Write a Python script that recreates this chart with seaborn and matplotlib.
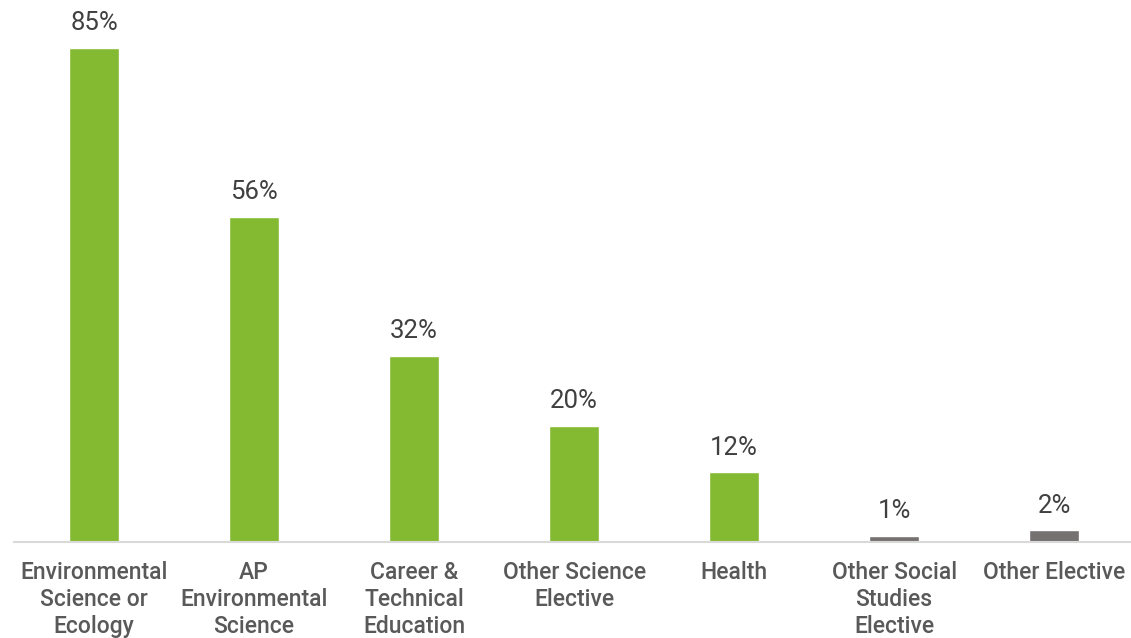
import matplotlib
matplotlib.use("Agg")
import matplotlib.pyplot as plt
import seaborn as sns
import pandas as pd

categories = ["Environmental\nScience or\nEcology", "AP\nEnvironmental\nScience",
              "Career &\nTechnical\nEducation", "Other Science\nElective", "Health",
              "Other Social\nStudies\nElective", "Other Elective"]
values = [85, 56, 32, 20, 12, 1, 2]
labels = ["85%", "56%", "32%", "20%", "12%", "1%", "2%"]
colors = ["#84BA31"] * 5 + ["#767171"] * 2

sns.set_theme(style="white")
plt.rcParams['font.family'] = ['Roboto', 'DejaVu Sans']

df = pd.DataFrame({"cat": categories, "val": values})
fig = plt.figure(figsize=(11.31, 6.38), dpi=100)
ax = fig.add_axes([14/1131, 1 - 542/638, 1 - 14/1131, 542/638])
sns.barplot(data=df, x="cat", y="val", hue="cat", palette=colors, legend=False,
            width=0.3125, saturation=1, ax=ax)
ax.set_xlim(-0.5, 6.48)
ax.set_ylim(0, 93.3)
for i, (v, l) in enumerate(zip(values, labels)):
    ax.text(i, v + 2.2, l, ha="center", va="bottom", fontsize=18.5, color="#404040")
ax.set_xlabel("")
ax.set_ylabel("")
ax.set_yticks([])
ax.tick_params(axis="x", length=0, pad=14, labelsize=16.5, labelcolor="#595959")
for lab in ax.get_xticklabels():
    lab.set_linespacing(1.2)
    lab.set_fontweight("medium")
for s in ["top", "right", "left"]:
    ax.spines[s].set_visible(False)
ax.spines["bottom"].set_color("#D9D9D9")
ax.spines["bottom"].set_linewidth(1.5)
fig.savefig("out.png", dpi=100)
